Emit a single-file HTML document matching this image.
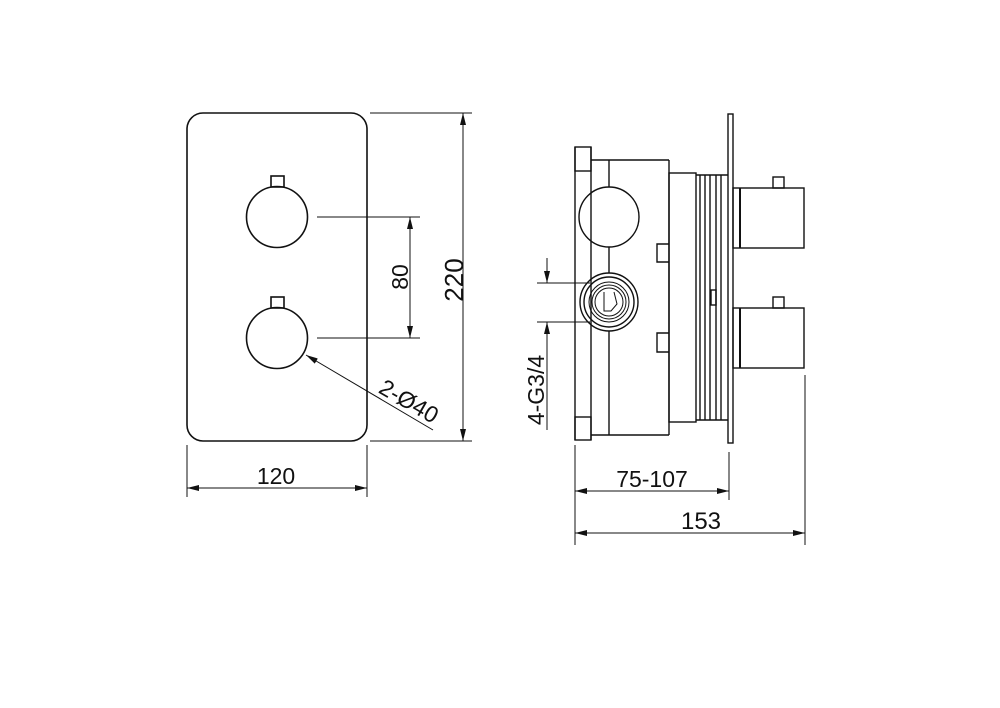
<!DOCTYPE html>
<html><head><meta charset="utf-8"><style>
html,body{margin:0;padding:0;background:#fff;}
svg{display:block;}
text{font-family:"Liberation Sans",sans-serif;fill:#111;}
</style></head><body>
<svg width="1000" height="708" viewBox="0 0 1000 708" xmlns="http://www.w3.org/2000/svg">
<defs>
<marker id="a" viewBox="0 0 12 6" refX="12" refY="3" markerWidth="12" markerHeight="6" orient="auto-start-reverse" markerUnits="userSpaceOnUse"><path d="M0,0 L12,3 L0,6 Z" fill="#111"/></marker>
</defs>
<g fill="none" stroke="#111" stroke-width="1.6">
<rect x="187" y="113" width="180" height="328" rx="16"/>
<circle cx="277" cy="217" r="30.5"/>
<rect x="271" y="176" width="13" height="11"/>
<circle cx="277" cy="338" r="30.5"/>
<rect x="271" y="297" width="13" height="11"/>
</g>
<g fill="none" stroke="#111" stroke-width="1">
<line x1="317" y1="217" x2="420" y2="217"/>
<line x1="317" y1="338" x2="420" y2="338"/>
<line x1="410" y1="217" x2="410" y2="338" marker-start="url(#a)" marker-end="url(#a)"/>
<line x1="370" y1="113" x2="472" y2="113"/>
<line x1="370" y1="441" x2="472" y2="441"/>
<line x1="463" y1="113" x2="463" y2="441" marker-start="url(#a)" marker-end="url(#a)"/>
<line x1="187" y1="445" x2="187" y2="497"/>
<line x1="367" y1="445" x2="367" y2="497"/>
<line x1="187" y1="488" x2="367" y2="488" marker-start="url(#a)" marker-end="url(#a)"/>
<line x1="433" y1="430" x2="306" y2="355" marker-end="url(#a)"/>
</g>
<text x="0" y="0" font-size="23" text-anchor="middle" transform="translate(408,277) rotate(-90)">80</text>
<text x="0" y="0" font-size="26" text-anchor="middle" transform="translate(463,280) rotate(-90)">220</text>
<text x="276" y="484" font-size="23" text-anchor="middle">120</text>
<text x="0" y="0" font-size="23" text-anchor="middle" transform="translate(405,408) rotate(30)">2-Ø40</text>

<g fill="none" stroke="#111" stroke-width="1.4">
<line x1="575" y1="147" x2="575" y2="440"/>
<rect x="575" y="147" width="16" height="24"/>
<rect x="575" y="417" width="16" height="23"/>
<line x1="591" y1="147" x2="591" y2="440"/>
<line x1="591" y1="160" x2="669" y2="160"/>
<line x1="669" y1="160" x2="669" y2="435"/>
<line x1="591" y1="435" x2="669" y2="435"/>
<line x1="609" y1="160" x2="609" y2="187"/>
<line x1="609" y1="247" x2="609" y2="273"/>
<line x1="609" y1="331" x2="609" y2="435"/>
<circle cx="609" cy="217" r="30"/>
<circle cx="609" cy="302" r="29"/>
<circle cx="609" cy="302" r="25"/>
<circle cx="609" cy="302" r="20" stroke-width="1"/>
<circle cx="609" cy="302" r="17" stroke-width="1"/>
<circle cx="609" cy="302" r="14" stroke-width="1"/>
<path d="M604,292 L604,311 L611,311 L617,304 L614,292" stroke-width="1"/>
<path d="M669,244 L657,244 L657,262 L669,262"/>
<path d="M669,333 L657,333 L657,352 L669,352"/>
<rect x="669" y="173" width="27" height="249"/>
<line x1="696" y1="175" x2="728" y2="175"/>
<line x1="696" y1="420" x2="728" y2="420"/>
<line x1="700" y1="175" x2="700" y2="420"/>
<line x1="705" y1="175" x2="705" y2="420"/>
<line x1="710" y1="175" x2="710" y2="420"/>
<line x1="716" y1="175" x2="716" y2="420"/>
<line x1="721" y1="175" x2="721" y2="420"/>
<rect x="711" y="290" width="5" height="15"/>
<rect x="728" y="114" width="5" height="329"/>
<rect x="733" y="188" width="71" height="60"/>
<line x1="740" y1="188" x2="740" y2="248" stroke-width="2"/>
<rect x="773" y="177" width="11" height="11"/>
<rect x="733" y="308" width="71" height="60"/>
<line x1="740" y1="308" x2="740" y2="368" stroke-width="2"/>
<rect x="773" y="297" width="11" height="11"/>
</g>
<g fill="none" stroke="#111" stroke-width="1">
<line x1="537" y1="283" x2="590" y2="283"/>
<line x1="537" y1="322" x2="590" y2="322"/>
<line x1="547" y1="258" x2="547" y2="283" marker-end="url(#a)"/>
<line x1="547" y1="430" x2="547" y2="322" marker-end="url(#a)"/>
<line x1="575" y1="445" x2="575" y2="545"/>
<line x1="729" y1="452" x2="729" y2="500"/>
<line x1="805" y1="375" x2="805" y2="545"/>
<line x1="575" y1="491" x2="729" y2="491" marker-start="url(#a)" marker-end="url(#a)"/>
<line x1="575" y1="533" x2="805" y2="533" marker-start="url(#a)" marker-end="url(#a)"/>
</g>
<text x="0" y="0" font-size="23" text-anchor="middle" transform="translate(544,390) rotate(-90)">4-G3/4</text>
<text x="652" y="487" font-size="23" text-anchor="middle">75-107</text>
<text x="701" y="529" font-size="24" text-anchor="middle">153</text>
</svg>
</body></html>
